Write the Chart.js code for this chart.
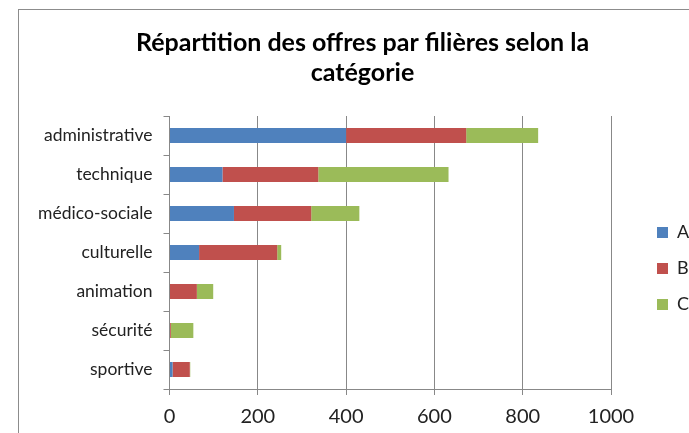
<!DOCTYPE html>
<html>
<head>
<meta charset="utf-8">
<script src="https://cdn.jsdelivr.net/npm/chart.js@4/dist/chart.umd.min.js"></script>
<style>
  body { margin: 0; background: #fff; }
  #wrap { position: relative; width: 689px; height: 433px; }
  #frame { position: absolute; left: 18px; top: 9px; width: 700px; height: 440px;
           border-left: 1px solid #8c8c8c; border-top: 1px solid #8c8c8c; }
  canvas { position: absolute; left: 0; top: 0; }
</style>
</head>
<body>
<div id="wrap">
  <div id="frame"></div>
  <canvas id="myChart" width="689" height="433"></canvas>
</div>
<script>
const filieres = ['administrative', 'technique', 'médico-sociale', 'culturelle', 'animation', 'sécurité', 'sportive'];
const catA = [400, 120, 146, 67, 0, 0, 7];
const catB = [272, 217, 175, 177, 62, 3, 39];
const catC = [163, 295, 109, 9, 37, 51, 1];
const xTicks = [0, 200, 400, 600, 800, 1000];

const ctx = document.getElementById('myChart').getContext('2d');
const myChart = new Chart(ctx, {
    type: 'bar',
    data: {
        labels: filieres,
        datasets: [
            { label: 'A', data: catA, backgroundColor: '#4F81BD' },
            { label: 'B', data: catB, backgroundColor: '#C0504D' },
            { label: 'C', data: catC, backgroundColor: '#9BBB59' }
        ]
    },
    options: {
        indexAxis: 'y',
        responsive: false,
        animation: false,
        layout: { padding: { left: 36, right: 0, top: 0, bottom: 0 } },
        datasets: { bar: { barPercentage: 0.38, categoryPercentage: 1 } },
        scales: {
            x: {
                stacked: true,
                min: 0,
                max: 1000,
                afterBuildTicks: axis => { axis.ticks = xTicks.map(v => ({ value: v })); },
                afterFit: s => { s.height = 44; },
                grid: { color: '#888', tickLength: 6 },
                border: { color: '#888' },
                ticks: { color: '#222', font: { family: 'Lato', size: 20 }, padding: 10,
                         callback: v => String(v) }
            },
            y: {
                stacked: true,
                afterFit: s => { s.width = 133.5; },
                grid: { offset: true, drawOnChartArea: false, color: '#888', tickLength: 6 },
                border: { color: '#888' },
                ticks: { color: '#222', font: { family: 'Lato', size: 17.5 }, padding: 11 }
            },
            // empty right-hand axis, only keeps space between plot and legend
            gap: {
                axis: 'y',
                type: 'category',
                position: 'right',
                grid: { display: false },
                border: { display: false },
                ticks: { display: false },
                afterFit: s => { s.width = 28; }
            }
        },
        plugins: {
            title: {
                display: true,
                text: ['Répartition des offres par filières selon la', 'catégorie'],
                color: '#000',
                font: { family: 'Lato', size: 25, weight: 'bold', lineHeight: 1.2 },
                padding: { top: 28, bottom: 28 }
            },
            legend: {
                position: 'right',
                fullSize: false,
                maxWidth: 50,
                title: { display: true, text: ' ', font: { size: 10, lineHeight: 1.2 }, padding: 10 },
                labels: {
                    boxWidth: 11,
                    boxHeight: 11,
                    padding: 18,
                    color: '#222',
                    font: { family: 'Lato', size: 18 }
                }
            },
            tooltip: { enabled: false }
        }
    }
});
</script>
</body>
</html>
